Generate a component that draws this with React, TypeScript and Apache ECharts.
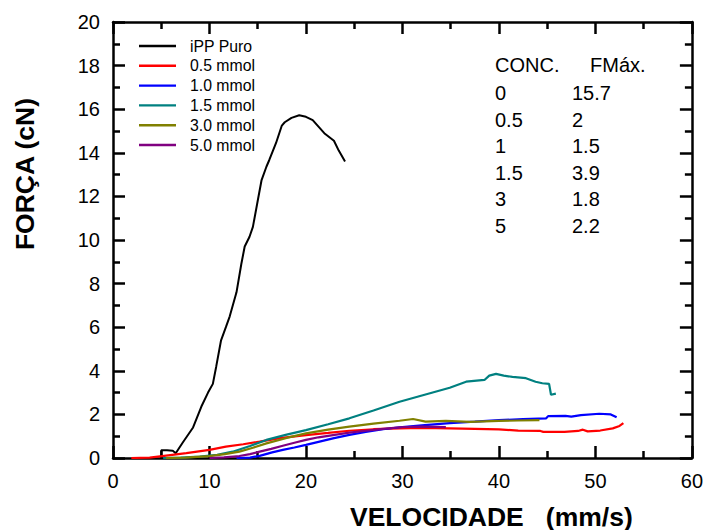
import React, { useEffect, useRef } from "react";
import * as echarts from "echarts";

const seriesNames = ["iPP Puro", "0.5 mmol", "1.0 mmol", "1.5 mmol", "3.0 mmol", "5.0 mmol"];
const seriesColors = ["#000000", "#FF0000", "#0000FF", "#008080", "#808000", "#800080"];

const ippPuro: number[][] = [
  [5.0, 0], [5.0, 0.35], [5.6, 0.35], [6.2, 0.33], [6.5, 0.22], [7.25, 0.72], [8.3, 1.4],
  [9.15, 2.35], [9.85, 3.0], [10.35, 3.4], [10.7, 4.2], [11.2, 5.4], [11.7, 6.0], [12.1, 6.5],
  [12.8, 7.6], [13.3, 8.9], [13.65, 9.7], [14.15, 10.15], [14.5, 10.6], [15.0, 11.8],
  [15.4, 12.75], [15.9, 13.36], [16.2, 13.67], [16.9, 14.45], [17.5, 15.25], [17.8, 15.4],
  [18.5, 15.6], [19.3, 15.72], [20.0, 15.65], [20.7, 15.5], [21.3, 15.2], [21.9, 14.9],
  [22.9, 14.55], [23.4, 14.1], [24.05, 13.6],
];
const mmol05: number[][] = [
  [1.9, 0], [3.8, 0.02], [5.3, 0.1], [7.6, 0.22], [10, 0.37], [11.7, 0.52], [13.5, 0.63],
  [15.2, 0.75], [17.5, 0.92], [20, 1.05], [22.3, 1.15], [24.5, 1.25], [27, 1.32], [29.7, 1.36],
  [32, 1.38], [34.9, 1.36], [37.5, 1.34], [40, 1.31], [42, 1.26], [44.3, 1.24], [44.6, 1.2],
  [46.8, 1.2], [48.2, 1.24], [48.7, 1.3], [49.2, 1.22], [50.5, 1.26], [51.8, 1.36], [52.5, 1.47],
  [52.9, 1.6],
];
const mmol10: number[][] = [
  [12.8, 0], [14.2, 0.02], [15.2, 0.1], [16.5, 0.26], [17.6, 0.37], [18.8, 0.48], [20, 0.6],
  [21.3, 0.74], [22.8, 0.9], [24.5, 1.06], [26.2, 1.2], [28, 1.32], [29.7, 1.41], [32, 1.5],
  [34.9, 1.6], [37.5, 1.67], [40, 1.74], [42.5, 1.78], [44.9, 1.82], [45.1, 1.92], [46.9, 1.93],
  [47.5, 1.9], [48.5, 1.97], [50.4, 2.03], [51.6, 2.0], [52.2, 1.87],
];
const mmol15: number[][] = [
  [5.2, 0], [7, 0.02], [9, 0.06], [10.8, 0.15], [12.4, 0.29], [14.2, 0.55], [15.9, 0.83],
  [18, 1.07], [20, 1.28], [22.3, 1.55], [24.5, 1.82], [27, 2.18], [29.7, 2.58], [32.3, 2.9],
  [34.9, 3.22], [36.6, 3.5], [38.5, 3.58], [39, 3.78], [39.7, 3.86], [40.5, 3.78], [41.4, 3.72],
  [42.8, 3.66], [43.8, 3.5], [44.5, 3.43], [45.2, 3.4], [45.4, 2.9], [45.9, 2.95],
];
const mmol30: number[][] = [
  [5.5, 0], [7.5, 0.02], [10, 0.09], [11.6, 0.18], [13.1, 0.29], [14.5, 0.47], [15.9, 0.67],
  [18, 0.92], [20, 1.13], [22.3, 1.3], [24.5, 1.44], [27, 1.58], [29.7, 1.71], [31.1, 1.79],
  [32.4, 1.67], [34.5, 1.7], [37, 1.66], [40, 1.7], [42, 1.72], [44.2, 1.74],
];
const mmol50: number[][] = [
  [10, 0], [11.5, 0.03], [13.1, 0.09], [14.2, 0.18], [15.2, 0.29], [16.4, 0.42], [17.6, 0.56],
  [18.8, 0.7], [20, 0.83], [21.3, 0.95], [22.8, 1.05], [24.5, 1.16], [26.2, 1.25], [28, 1.34],
  [29.7, 1.41], [32, 1.44], [34.5, 1.42],
];
const seriesData = [ippPuro, mmol05, mmol10, mmol15, mmol30, mmol50];

const tableHeader = ["CONC.", "FMáx."];
const concValues = ["0", "0.5", "1", "1.5", "3", "5"];
const fmaxValues = ["15.7", "2", "1.5", "3.9", "1.8", "2.2"];

const xTitle = "VELOCIDADE   (mm/s)";
const yTitle = "FORÇA (cN)";

const FONT = "'Liberation Sans', Arial, Helvetica, sans-serif";

export default function App() {
  const ref = useRef<HTMLDivElement>(null);
  useEffect(() => {
    if (!ref.current) return;
    const chart = echarts.init(ref.current, null, { renderer: "svg" });
    const axisCommon = {
      axisLine: { show: true, onZero: false, lineStyle: { color: "#000", width: 2.5 } },
      axisTick: { show: true, inside: true, length: 12, lineStyle: { color: "#000", width: 2.5 } },
      minorTick: { show: true, splitNumber: 2, length: 7, lineStyle: { color: "#000", width: 2.5 } },
      splitLine: { show: false },
      minorSplitLine: { show: false },
    };
    const labelStyle = { color: "#000", fontSize: 20, fontFamily: FONT };

    const graphics: any[] = [];
    graphics.push({
      type: "text", left: 350, top: 503,
      style: { text: xTitle, font: `bold 26.5px ${FONT}`, fill: "#000" },
    });
    graphics.push({
      type: "text", x: 25, y: 174, rotation: Math.PI / 2,
      style: { text: yTitle, font: `bold 26.5px ${FONT}`, fill: "#000", align: "center", verticalAlign: "middle" },
    });
    graphics.push({
      type: "text", x: 495, y: 65,
      style: { text: tableHeader[0], font: `20px ${FONT}`, fill: "#000", verticalAlign: "middle" },
    });
    graphics.push({
      type: "text", x: 590, y: 65,
      style: { text: tableHeader[1], font: `20px ${FONT}`, fill: "#000", verticalAlign: "middle" },
    });
    concValues.forEach((c, i) => {
      const y = 93 + i * 26.5;
      graphics.push({
        type: "text", x: 495, y,
        style: { text: c, font: `20px ${FONT}`, fill: "#000", verticalAlign: "middle" },
      });
      graphics.push({
        type: "text", x: 572, y,
        style: { text: fmaxValues[i], font: `20px ${FONT}`, fill: "#000", verticalAlign: "middle" },
      });
    });

    chart.setOption({
      animation: false,
      backgroundColor: "#fff",
      grid: { left: 113, right: 14, top: 22, bottom: 72, containLabel: false },
      legend: {
        orient: "vertical",
        left: 134,
        top: 33,
        padding: 5,
        icon: "rect",
        itemWidth: 37,
        itemHeight: 2.4,
        itemGap: 3.8,
        data: seriesNames,
        textStyle: { color: "#000", fontSize: 15.8, fontFamily: FONT, lineHeight: 14, padding: [0, 0, 0, 9] },
      },
      xAxis: [
        {
          type: "value", min: 0, max: 60, interval: 10, position: "bottom",
          ...axisCommon,
          axisLabel: { ...labelStyle, margin: 13 },
        },
        {
          type: "value", min: 0, max: 60, interval: 10, position: "top",
          ...axisCommon,
          axisLabel: { show: false },
        },
      ],
      yAxis: [
        {
          type: "value", min: 0, max: 20, interval: 2, position: "left",
          ...axisCommon,
          axisLabel: { ...labelStyle, margin: 13 },
        },
        {
          type: "value", min: 0, max: 20, interval: 2, position: "right",
          ...axisCommon,
          axisLabel: { show: false },
        },
      ],
      series: seriesNames.map((name, i) => ({
        name,
        type: "line",
        data: seriesData[i],
        xAxisIndex: 0,
        yAxisIndex: 0,
        symbol: "none",
        showSymbol: false,
        color: seriesColors[i],
        lineStyle: { color: seriesColors[i], width: i === 0 ? 2 : 2.2 },
      })),
      graphic: graphics,
    });
    return () => chart.dispose();
  }, []);
  return <div ref={ref} style={{ position: "fixed", left: 0, top: 0, width: 706, height: 530 }} />;
}
